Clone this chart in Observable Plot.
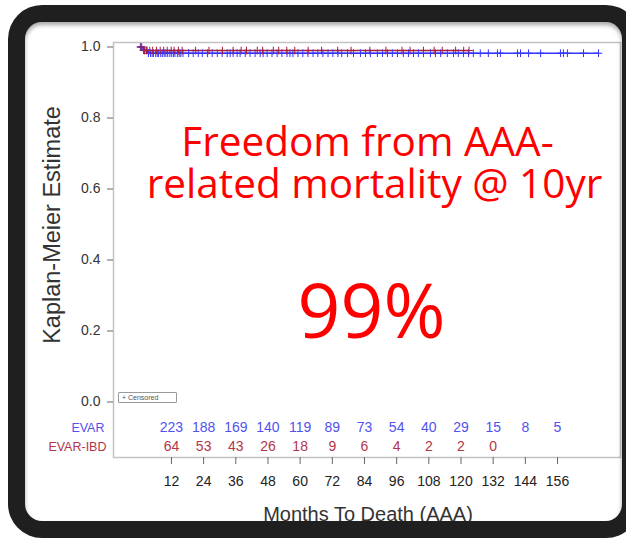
<!DOCTYPE html>
<html><head><meta charset="utf-8">
<script src="https://cdn.jsdelivr.net/npm/d3@7"></script>
<script src="https://cdn.jsdelivr.net/npm/@observablehq/plot@0.6"></script>
<style>
html,body{margin:0;padding:0;background:#fff;width:626px;height:539px;overflow:hidden;}
#wrap{position:relative;width:626px;height:539px;}
#chart{position:absolute;left:0;top:0;}
#bezel{position:absolute;left:8px;top:5px;width:597px;height:499px;border-style:solid;border-color:#1f1f1f;border-width:17px 18px 17px 17px;border-radius:34px;pointer-events:none;box-sizing:content-box;box-shadow: inset 0 3px 4px rgba(0,0,0,0.35);}
#legend{position:absolute;left:118px;top:392px;width:54px;height:9px;border:1px solid #9a9a9a;border-radius:1px;font:7px "Liberation Sans",Arial,sans-serif;color:#555;line-height:9px;padding-left:3px;white-space:nowrap;}
</style>
</head><body>
<div id="wrap"><div id="chart"></div><div id="legend">+ Censored</div><div id="bezel"></div></div>
<script>
// ---- data ----
const xTicks = [12, 24, 36, 48, 60, 72, 84, 96, 108, 120, 132, 144, 156];
const yTicks = [0, 0.2, 0.4, 0.6, 0.8, 1.0];

const groups = ["EVAR", "EVAR-IBD"];

// Kaplan-Meier step curves
const evarTime = [0, 1, 3, 171.3];
const evarSurv = [1, 0.991, 0.9825, 0.9825];
const ibdTime = [0, 1.5, 123];
const ibdSurv = [1, 0.99, 0.99];

// censoring times (months)
const evarCensor = [0.4,0.9,1.6,2.1,2.9,3.4,4.2,4.8,5.3,6.1,6.7,7.2,8.0,8.6,9.3,9.9,10.6,11.4,12.1,12.8,13.3,14.2,14.9,15.5,16.3,
  18.4,20.1,22,23.5,25.4,27.2,29.1,30.9,32.8,33.9,35,36.5,37.6,39.5,41.3,43.2,45.1,46.2,47.7,49.5,51.4,53.2,55.1,56.2,57.3,59.2,
  61,62.9,64.8,66.6,68.5,70.4,72.2,74.1,75.5,77.7,79.9,82.5,84.4,86.2,88.8,90.7,92.6,94.4,96.3,98.5,100.4,102.3,104.1,106,108.6,
  110.5,112.4,114.9,117.2,119,120.9,122.8,124.6,127.2,130.2,133.6,134.7,141.1,142.2,145.2,149.7,157.1,158.2,159.7,165.7,171.3];
const ibdCensor = [0.6,1.9,2.7,3.9,5.0,6.4,7.8,9.1,10.4,11.9,13.0,14.6,16.0,21,26,31,35,38,40,44,46,50,52,55,58,63,68,74,79,
  86,92,98,101,106,110,113,118,121,123];

// numbers at risk
const riskMonths = [12, 24, 36, 48, 60, 72, 84, 96, 108, 120, 132, 144, 156];
const evarRisk = [223, 188, 169, 140, 119, 89, 73, 54, 40, 29, 15, 8, 5];
const ibdRisk = [64, 53, 43, 26, 18, 9, 6, 4, 2, 2, 0];

const xLabel = "Months To Death (AAA)";
const yLabel = "Kaplan-Meier Estimate";
const annotLine1 = ["Freedom from AAA-"];
const annotLine2 = ["related mortality @ 10yr"];
const annotBig = ["99%"];

// ---- styles ----
const blueLine = "#3434ff", redLine = "#a81e3e";
const blueText = "#5252ee", redText = "#b3354a";

// ---- tables ----
const stepLookup = (times, surv) => t => {
  let s = surv[0];
  for (let i = 0; i < times.length; i++) if (times[i] <= t) s = surv[i];
  return s;
};
const evarKm = evarTime.map((t, i) => ({t, s: evarSurv[i]}));
const ibdKm = ibdTime.map((t, i) => ({t, s: ibdSurv[i]}));
const fe = stepLookup(evarTime, evarSurv), fi = stepLookup(ibdTime, ibdSurv);
const evarCens = evarCensor.map(t => ({t, s: fe(t)}));
const ibdCens = ibdCensor.map(t => ({t, s: fi(t)}));
const evarRows = evarRisk.map((n, i) => ({m: riskMonths[i], n}));
const ibdRows = ibdRisk.map((n, i) => ({m: riskMonths[i], n}));

const redFont = "'Open Sans', sans-serif";

const chart = Plot.plot({
  width: 626,
  height: 539,
  marginLeft: 113,
  marginRight: 6,
  marginTop: 42,
  marginBottom: 82,
  style: {fontFamily: "'Liberation Sans', Arial, sans-serif", color: "#333", background: "transparent"},
  x: {domain: [-9.62, 179.5]},
  y: {domain: [-0.1563, 1.0127]},
  marks: [
    Plot.frame({stroke: "#c2c2c2", strokeWidth: 1.5}),
    Plot.line(evarKm, {x: "t", y: "s", curve: "step-after", stroke: blueLine, strokeWidth: 1.4}),
    Plot.line(ibdKm, {x: "t", y: "s", curve: "step-after", stroke: redLine, strokeWidth: 1.4}),
    Plot.dot(evarCens, {x: "t", y: "s", symbol: "plus", r: 2.6, stroke: blueLine, strokeWidth: 1}),
    Plot.dot(ibdCens, {x: "t", y: "s", symbol: "plus", r: 2.6, stroke: redLine, strokeWidth: 1}),
    Plot.axisY({ticks: yTicks, tickFormat: ".1f", tickSize: 6, tickPadding: 7, label: null, fontSize: 14, stroke: "#666", fill: "#333"}),
    Plot.axisX({ticks: xTicks, tickFormat: "d", tickSize: 7, tickPadding: 12, label: null, fontSize: 14, stroke: "#666", fill: "#222"}),
    Plot.text([yLabel], {text: d => d, frameAnchor: "left", textAnchor: "middle", lineAnchor: "middle", rotate: -90, dx: -61, dy: -25, fontSize: 23.5, fill: "#333"}),
    Plot.text([xLabel], {text: d => d, frameAnchor: "bottom", textAnchor: "middle", lineAnchor: "middle", dx: 1, dy: 57, fontSize: 20, fill: "#333"}),
    Plot.text(evarRows, {x: "m", text: "n", frameAnchor: "bottom", lineAnchor: "middle", dy: -30, fontSize: 14, fill: blueText}),
    Plot.text(ibdRows, {x: "m", text: "n", frameAnchor: "bottom", lineAnchor: "middle", dy: -11, fontSize: 14, fill: redText}),
    Plot.text([groups[0]], {text: d => d, frameAnchor: "bottom-left", textAnchor: "end", lineAnchor: "middle", dx: -9, dy: -30, fontSize: 12.5, fill: blueText}),
    Plot.text([groups[1]], {text: d => d, frameAnchor: "bottom-left", textAnchor: "end", lineAnchor: "middle", dx: -7, dy: -11, fontSize: 12.5, fill: redText}),
    Plot.text(annotLine1, {text: d => d, frameAnchor: "top", textAnchor: "middle", lineAnchor: "middle", dx: 0.5, dy: 101, fontSize: 40.5, fontFamily: redFont, fill: "#ff0000"}),
    Plot.text(annotLine2, {text: d => d, frameAnchor: "top", textAnchor: "middle", lineAnchor: "middle", dx: 7.5, dy: 143, fontSize: 40.5, fontFamily: redFont, fill: "#ff0000"}),
    Plot.text(annotBig, {text: d => d, frameAnchor: "top", textAnchor: "middle", lineAnchor: "middle", dx: 4.5, dy: 271, fontSize: 75, fontFamily: redFont, fill: "#ff0000"})
  ]
});
document.getElementById("chart").appendChild(chart);
</script>
</body></html>
